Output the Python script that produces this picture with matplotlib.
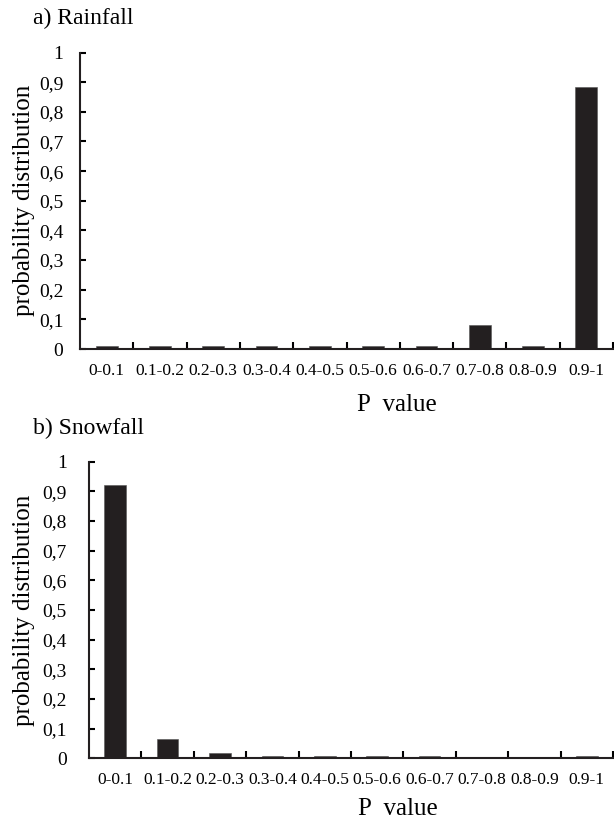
import numpy as np
import matplotlib
matplotlib.use("Agg")
import matplotlib.pyplot as plt

plt.rcParams['font.family'] = ['Liberation Serif', 'DejaVu Serif']

categories = ['0-0.1', '0.1-0.2', '0.2-0.3', '0.3-0.4', '0.4-0.5',
              '0.5-0.6', '0.6-0.7', '0.7-0.8', '0.8-0.9', '0.9-1']
rainfall = [0.01, 0.01, 0.01, 0.01, 0.01, 0.01, 0.01, 0.08, 0.01, 0.885]
snowfall = [0.92, 0.065, 0.017, 0.007, 0.007, 0.007, 0.007, 0.0, 0.0, 0.007]
ytick_vals = [0, 0.1, 0.2, 0.3, 0.4, 0.5, 0.6, 0.7, 0.8, 0.9, 1.0]
ytick_labels = ['0', '0,1', '0,2', '0,3', '0,4', '0,5', '0,6', '0,7', '0,8', '0,9', '1']

bar_color = '#231f20'

fig = plt.figure(figsize=(6.14, 8.25), dpi=100)
ax_top = fig.add_axes([80 / 614, 1 - 349 / 825, 533 / 614, 296.5 / 825])
ax_bot = fig.add_axes([89 / 614, 1 - 758.3 / 825, 524 / 614, 296.6 / 825])


def draw_panel(ax, values, ypad):
    x = np.arange(len(categories)) + 0.5
    ax.bar(x, values, width=0.41, color=bar_color, edgecolor='#555555', linewidth=0.4)
    ax.set_xlim(0, len(categories))
    ax.set_ylim(0, 1)
    for s in ['top', 'right']:
        ax.spines[s].set_visible(False)
    for s in ['left', 'bottom']:
        ax.spines[s].set_linewidth(1.5)
        ax.spines[s].set_color('#231f20')
    ax.set_yticks(ytick_vals)
    ax.set_yticklabels(ytick_labels, fontsize=14)
    ax.tick_params(axis='y', direction='in', length=4, width=1.5, pad=ypad)
    ax.set_xticks(np.arange(1, len(categories) + 1))
    ax.set_xticklabels([])
    ax.set_xticks(x, minor=True)
    ax.set_xticklabels(categories, minor=True, fontsize=12.5)
    ax.tick_params(axis='x', which='major', direction='in', length=5, width=1.5)
    ax.tick_params(axis='x', which='minor', length=0, pad=10)
    ax.set_xlabel('P  value', fontsize=18)
    ax.set_ylabel('probability distribution', fontsize=18)


draw_panel(ax_top, rainfall, 12)
draw_panel(ax_bot, snowfall, 16)
ax_top.xaxis.set_label_coords(0.595, -0.152)
ax_bot.xaxis.set_label_coords(0.59, -0.134)
ax_top.yaxis.set_label_coords(-0.084, 0.5)
ax_bot.yaxis.set_label_coords(-0.103, 0.5)

fig.text(33 / 614, 1 - 18 / 825, 'a) Rainfall', fontsize=17, va='center', ha='left')
fig.text(33 / 614, 1 - 428 / 825, 'b) Snowfall', fontsize=17, va='center', ha='left')

fig.savefig('out.png', dpi=100)
